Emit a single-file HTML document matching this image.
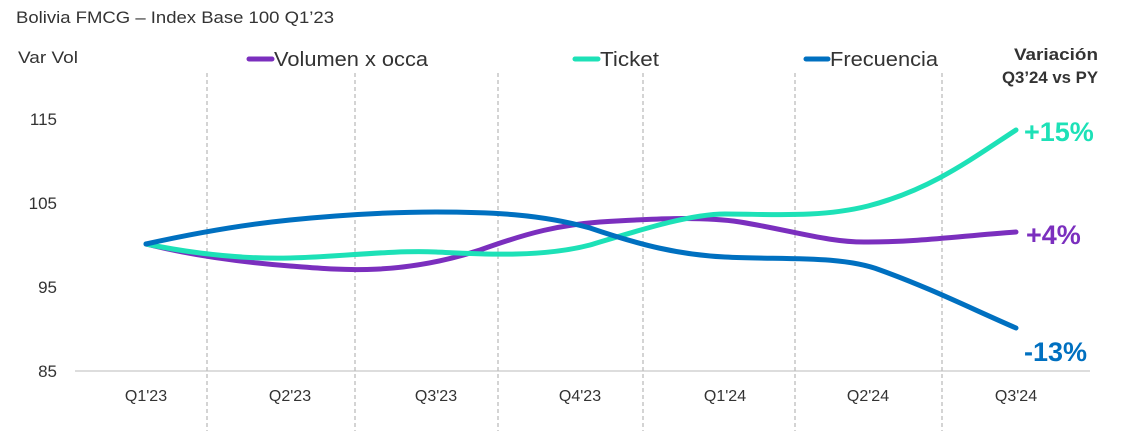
<!DOCTYPE html>
<html><head><meta charset="utf-8"><style>
html,body{margin:0;padding:0;background:#fff;}
svg{display:block;font-family:"Liberation Sans",Arial,sans-serif;}
</style></head><body>
<svg width="1130" height="431" viewBox="0 0 1130 431" xmlns="http://www.w3.org/2000/svg">
<text x="16" y="23" font-size="17" fill="#333" textLength="318" lengthAdjust="spacingAndGlyphs">Bolivia FMCG – Index Base 100 Q1’23</text>
<text x="18" y="63" font-size="17" fill="#333" textLength="60" lengthAdjust="spacingAndGlyphs">Var Vol</text>
<line x1="249" y1="59" x2="272" y2="59" stroke="#7B2FBE" stroke-width="5" stroke-linecap="round"/>
<text x="274" y="66" font-size="20" fill="#333" textLength="154" lengthAdjust="spacingAndGlyphs">Volumen x occa</text>
<line x1="575" y1="59" x2="598" y2="59" stroke="#1DE1B7" stroke-width="5" stroke-linecap="round"/>
<text x="600" y="66" font-size="20" fill="#333" textLength="59" lengthAdjust="spacingAndGlyphs">Ticket</text>
<line x1="806" y1="59" x2="828" y2="59" stroke="#0070C0" stroke-width="5" stroke-linecap="round"/>
<text x="830" y="66" font-size="20" fill="#333" textLength="108" lengthAdjust="spacingAndGlyphs">Frecuencia</text>
<text x="1056" y="60" font-size="17" font-weight="bold" fill="#333" text-anchor="middle" textLength="84" lengthAdjust="spacingAndGlyphs">Variación</text>
<text x="1050" y="83" font-size="17" font-weight="bold" fill="#333" text-anchor="middle" textLength="96" lengthAdjust="spacingAndGlyphs">Q3’24 vs PY</text>
<g stroke="#aaa" stroke-width="1" stroke-dasharray="4,3">
<line x1="207" y1="73" x2="207" y2="431"/><line x1="355" y1="73" x2="355" y2="431"/>
<line x1="498" y1="73" x2="498" y2="431"/><line x1="643" y1="73" x2="643" y2="431"/>
<line x1="795" y1="73" x2="795" y2="431"/><line x1="942" y1="73" x2="942" y2="431"/>
</g>
<line x1="75" y1="371" x2="1090" y2="371" stroke="#bbb" stroke-width="1"/>
<g font-size="17" fill="#333" text-anchor="end">
<text x="57" y="125">115</text><text x="57" y="209">105</text><text x="57" y="293">95</text><text x="57" y="377">85</text>
</g>
<g font-size="16" fill="#333" text-anchor="middle">
<text x="146" y="401">Q1'23</text><text x="290" y="401">Q2'23</text><text x="436" y="401">Q3'23</text>
<text x="580" y="401">Q4'23</text><text x="725" y="401">Q1'24</text><text x="868" y="401">Q2'24</text><text x="1016" y="401">Q3'24</text>
</g>
<g fill="none" stroke-width="5" stroke-linecap="round">
<path stroke="#7B2FBE" d="M146,244 C190,255 240,262 290,266 C340,270 400,276 480,250 C530,232 560,225 600,222 C650,219 700,216 740,222 C790,230 830,243 868,242 C920,242 960,236 1016,232"/>
<path stroke="#1DE1B7" d="M146,244 C200,255 250,259 290,258 C340,257 390,250 436,252 C480,254 540,258 590,245 C640,230 690,214 725,214 C770,214 820,218 868,206 C930,190 970,160 1016,130"/>
<path stroke="#0070C0" d="M146,244 C200,232 250,224 290,220 C340,215 390,212 436,212 C490,212 540,214 590,228 C640,245 680,255 725,257 C780,260 840,255 880,270 C930,288 970,308 1016,328"/>
</g>
<g font-size="27" font-weight="bold">
<text x="1024" y="141" fill="#1DE1B7">+15%</text>
<text x="1026" y="244" fill="#7B2FBE">+4%</text>
<text x="1024" y="361" fill="#0070C0">-13%</text>
</g>
</svg>
</body></html>
